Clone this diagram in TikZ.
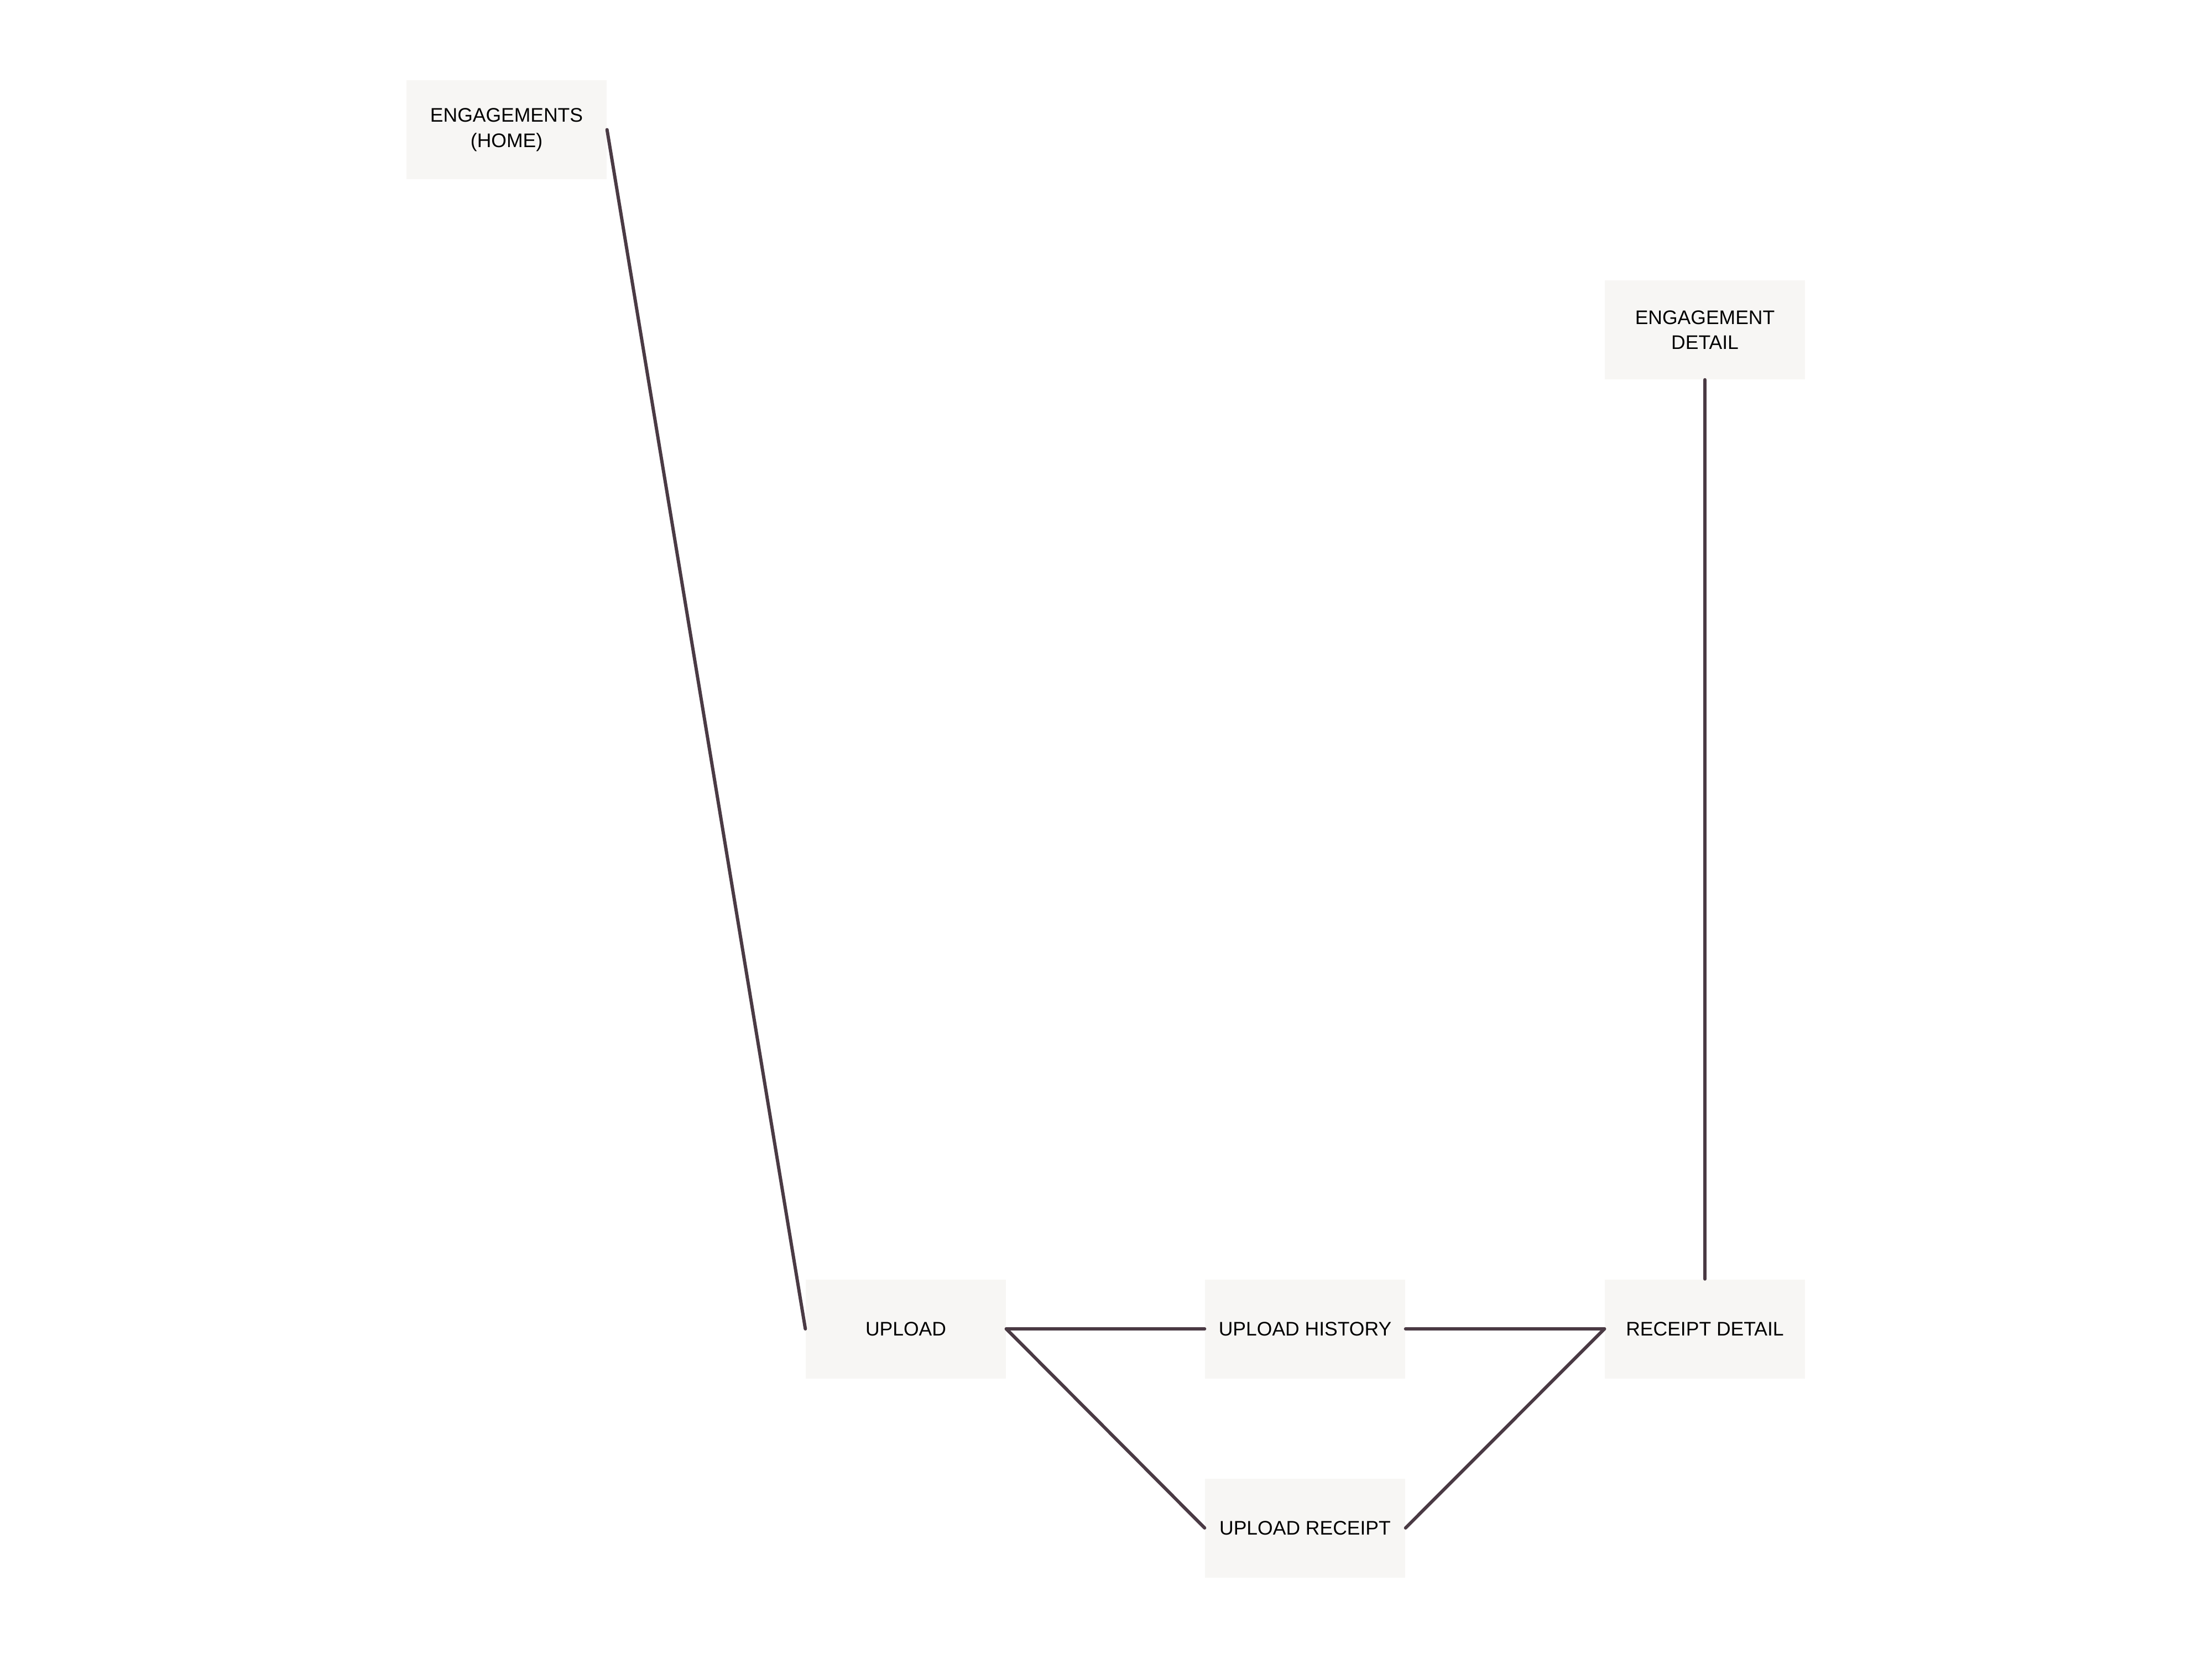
\documentclass[tikz,border=0pt]{standalone}
\usepackage{fontspec}
\setmainfont{Liberation Sans}
\definecolor{boxfill}{HTML}{F7F6F4}
\definecolor{linecol}{HTML}{4A3A44}
\begin{document}
\begin{tikzpicture}[x=1cm,y=-1cm,
  screen/.style={rectangle, fill=boxfill, draw=none, minimum width=3.62cm, minimum height=1.79cm, inner sep=0pt, align=center, font=\fontsize{10.1}{13}\selectfont, text=black},
  link/.style={draw=linecol, line width=1.7pt, line cap=round}]
\useasboundingbox (0,0) rectangle (40,30);
\node[screen] (home) at (9.16,2.345) {ENGAGEMENTS\\(HOME)};
\node[screen] (edetail) at (30.83,5.965) {ENGAGEMENT\\DETAIL};
\node[screen] (upload) at (16.38,24.03) {UPLOAD};
\node[screen] (history) at (23.60,24.03) {UPLOAD HISTORY};
\node[screen] (rdetail) at (30.83,24.03) {RECEIPT DETAIL};
\node[screen] (ureceipt) at (23.60,27.63) {UPLOAD RECEIPT};
\draw[link] (home.east) -- (upload.west);
\draw[link] (upload.east) -- (history.west);
\draw[link] (upload.east) -- (ureceipt.west);
\draw[link] (history.east) -- (rdetail.west);
\draw[link] (ureceipt.east) -- (rdetail.west);
\draw[link] (edetail.south) -- (rdetail.north);
\end{tikzpicture}
\end{document}
